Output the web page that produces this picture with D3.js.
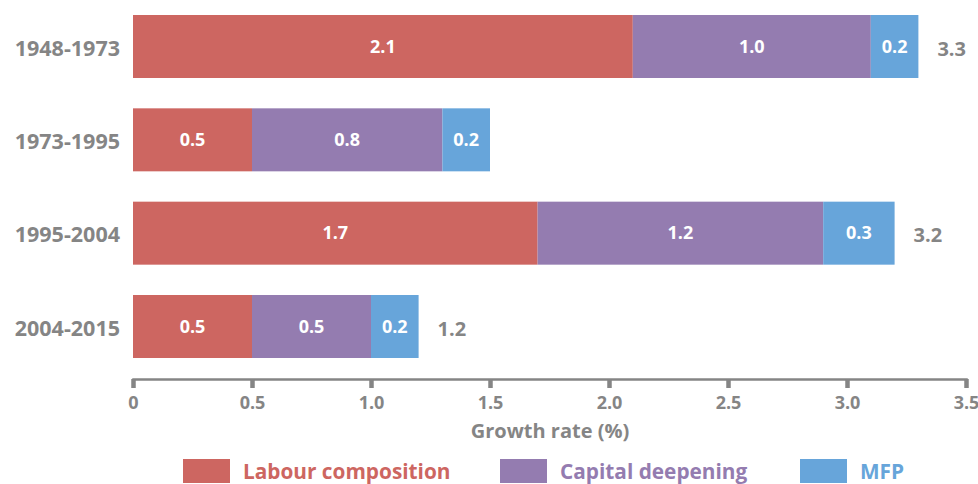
<!DOCTYPE html>
<html>
<head>
<meta charset="utf-8">
<script src="https://cdn.jsdelivr.net/npm/d3@7"></script>
<style>
  html, body { margin: 0; padding: 0; background: #fff; }
  svg { display: block; }
  text { font-family: "Open Sans", "Noto Sans", sans-serif; }
</style>
</head>
<body>
<svg id="chart" width="978" height="484"></svg>
<script>
// Growth-rate decomposition by period
const periods = ["1948-1973", "1973-1995", "1995-2004", "2004-2015"];
const seriesNames = ["Labour composition", "Capital deepening", "MFP"];
const labourComposition = [2.1, 0.5, 1.7, 0.5];
const capitalDeepening = [1.0, 0.8, 1.2, 0.5];
const mfp = [0.2, 0.2, 0.3, 0.2];
const totalLabels = [3.3, null, 3.2, 1.2];
const xTicks = [0, 0.5, 1.0, 1.5, 2.0, 2.5, 3.0, 3.5];
const axisTitle = "Growth rate (%)";

const colors = ["#cd6661", "#947cb0", "#67a5da"];
const grey = "#858585";

const rows = periods.map((p, i) => ({
  period: p,
  "Labour composition": labourComposition[i],
  "Capital deepening": capitalDeepening[i],
  "MFP": mfp[i],
  total: totalLabels[i]
}));

const svg = d3.select("#chart");

const x = d3.scaleLinear().domain([0, 3.5]).range([133, 966]);
const y = d3.scaleBand().domain(periods).range([15, 358]).paddingInner(0.325).paddingOuter(0);
const color = d3.scaleOrdinal().domain(seriesNames).range(colors);

const stacked = d3.stack().keys(seriesNames)(rows);

// stacked segments
const layer = svg.append("g").selectAll("g")
  .data(stacked).join("g")
  .attr("fill", d => color(d.key));

layer.selectAll("rect")
  .data(d => d.map(v => ({ key: d.key, v })))
  .join("rect")
  .attr("x", d => x(d.v[0]))
  .attr("y", d => y(d.v.data.period))
  .attr("width", d => x(d.v[1]) - x(d.v[0]))
  .attr("height", y.bandwidth());

// segment value labels
layer.selectAll("text")
  .data(d => d.map(v => ({ key: d.key, v })))
  .join("text")
  .attr("x", d => (x(d.v[0]) + x(d.v[1])) / 2)
  .attr("y", d => y(d.v.data.period) + y.bandwidth() / 2)
  .attr("dy", "0.35em")
  .attr("text-anchor", "middle")
  .attr("fill", "#fff")
  .attr("font-size", 18)
  .attr("font-weight", 700)
  .text(d => d3.format(".1f")(d.v.data[d.key]));

// totals at the end of the bars
svg.append("g").selectAll("text")
  .data(rows.filter(r => r.total != null))
  .join("text")
  .attr("x", d => x(d["Labour composition"] + d["Capital deepening"] + d["MFP"]) + 19)
  .attr("y", d => y(d.period) + y.bandwidth() / 2 + 2)
  .attr("dy", "0.35em")
  .attr("fill", grey)
  .attr("font-size", 20)
  .attr("font-weight", 700)
  .text(d => d3.format(".1f")(d.total));

// period labels
svg.append("g").selectAll("text")
  .data(periods)
  .join("text")
  .attr("x", 120)
  .attr("y", d => y(d) + y.bandwidth() / 2 + 1.5)
  .attr("dy", "0.35em")
  .attr("text-anchor", "end")
  .attr("fill", grey)
  .attr("font-size", 21.5)
  .attr("font-weight", 700)
  .text(d => d);

// x axis
const axis = d3.axisBottom(x)
  .tickValues(xTicks)
  .tickSizeOuter(0)
  .tickSize(9)
  .tickPadding(8)
  .tickFormat(d => d === 0 ? "0" : d3.format(".1f")(d));

const gx = svg.append("g")
  .attr("transform", "translate(0,379)")
  .call(axis);

gx.select(".domain").attr("stroke", grey).attr("stroke-width", 2.5);
gx.selectAll(".tick line").attr("stroke", grey).attr("stroke-width", 4.5);
gx.selectAll(".tick text")
  .attr("fill", grey)
  .attr("font-size", 18)
  .attr("font-weight", 700)
  .attr("font-family", "'Open Sans', 'Noto Sans', sans-serif");

svg.append("text")
  .attr("x", 550)
  .attr("y", 438)
  .attr("text-anchor", "middle")
  .attr("fill", grey)
  .attr("font-size", 20)
  .attr("font-weight", 700)
  .text(axisTitle);

// legend
const legendX = [183, 500, 800];
const legend = svg.append("g").selectAll("g")
  .data(seriesNames)
  .join("g")
  .attr("transform", (d, i) => `translate(${legendX[i]},459)`);

legend.append("rect")
  .attr("width", 47)
  .attr("height", 24)
  .attr("fill", d => color(d));

legend.append("text")
  .attr("x", 60)
  .attr("y", 20)
  .attr("fill", d => color(d))
  .attr("font-size", 20.8)
  .attr("font-weight", 700)
  .text(d => d);
</script>
</body>
</html>
